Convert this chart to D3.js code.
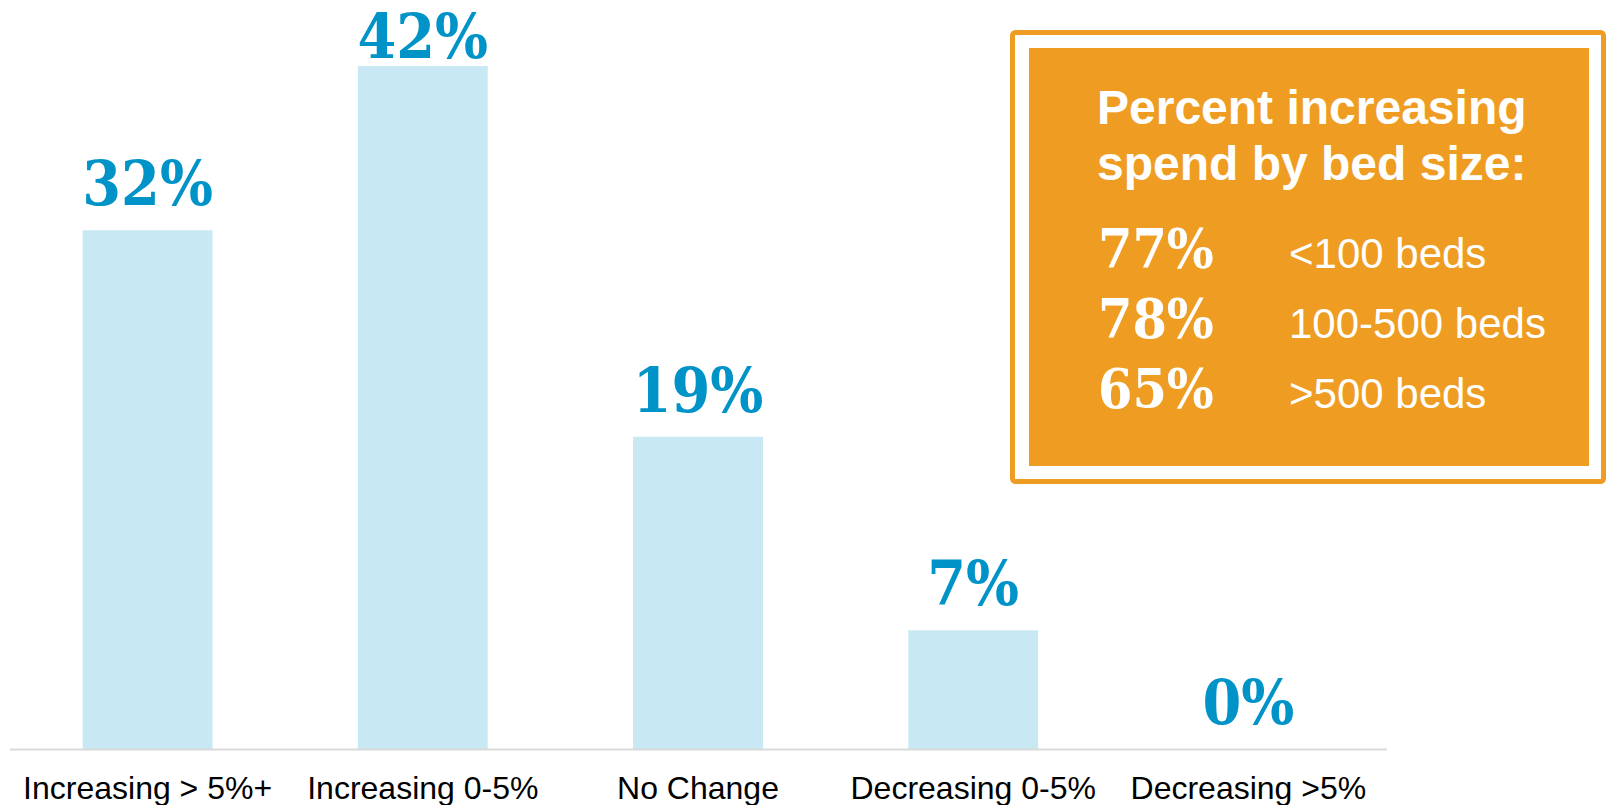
<!DOCTYPE html>
<html>
<head>
<meta charset="utf-8">
<script src="https://cdn.jsdelivr.net/npm/d3@7"></script>
<style>
  html, body { margin: 0; padding: 0; background: #ffffff; }
  svg { display: block; }
</style>
</head>
<body>
<svg id="chart" width="1608" height="805"></svg>
<script>
// ---- data ----
const categories = ["Increasing > 5%+", "Increasing 0-5%", "No Change", "Decreasing 0-5%", "Decreasing >5%"];
const values = [31.9, 42.0, 19.2, 7.3, 0];
const boxTitle = ["Percent increasing", "spend by bed size:"];
const bedPercents = [77, 78, 65];
const bedLabels = ["<100 beds", "100-500 beds", ">500 beds"];

// ---- styles ----
const barColor = "#c8e9f3";
const valueColor = "#0093c8";
const orange = "#ef9d22";
const axisColor = "#d9d9d9";
const slabFont = "'DejaVu Serif', 'Liberation Serif', serif";
const sansFont = "'Liberation Sans', Arial, sans-serif";

const svg = d3.select("#chart");

const x = d3.scaleBand()
  .domain(categories)
  .range([10, 1386])
  .paddingInner(0.528)
  .paddingOuter(0.264);

const y = d3.scaleLinear().domain([0, 46.06]).range([749, 0]);

// bars
svg.append("g").selectAll("rect")
  .data(values)
  .join("rect")
  .attr("x", (d, i) => x(categories[i]))
  .attr("y", d => y(d))
  .attr("width", x.bandwidth())
  .attr("height", d => y(0) - y(d))
  .attr("fill", barColor);

// axis baseline
const xAxis = d3.axisBottom(x).tickSize(0).tickPadding(0);
const axisG = svg.append("g").attr("transform", `translate(0,${y(0)})`).call(xAxis);
axisG.select(".domain").attr("stroke", axisColor).attr("stroke-width", 2)
  .attr("d", `M10,0.5H1387`);
axisG.selectAll(".tick text")
  .attr("y", 50)
  .attr("dy", 0)
  .attr("fill", "#000")
  .style("font-family", sansFont)
  .style("font-size", "32px");

// value labels
svg.append("g").selectAll("text")
  .data(values)
  .join("text")
  .attr("transform", (d, i) => {
    const cx = x(categories[i]) + x.bandwidth() / 2;
    const by = Math.max(y(d) - 25, 58);
    return `translate(${cx},${by}) scale(0.9,1)`;
  })
  .attr("text-anchor", "middle")
  .attr("fill", valueColor)
  .style("font-family", slabFont)
  .style("font-weight", "bold")
  .style("font-size", "62px")
  .text(d => Math.round(d) + "%");

// ---- callout box ----
const box = svg.append("g");
box.append("rect")
  .attr("x", 1012.5).attr("y", 32.5)
  .attr("width", 591).attr("height", 449)
  .attr("rx", 3)
  .attr("fill", "none")
  .attr("stroke", orange)
  .attr("stroke-width", 5);
box.append("rect")
  .attr("x", 1029).attr("y", 48)
  .attr("width", 560).attr("height", 418)
  .attr("fill", orange);

box.selectAll("text.title")
  .data(boxTitle)
  .join("text")
  .attr("class", "title")
  .attr("x", 1097)
  .attr("y", (d, i) => 124 + i * 56)
  .attr("fill", "#fff")
  .style("font-family", sansFont)
  .style("font-weight", "bold")
  .style("font-size", "48px")
  .text(d => d);

const rowY = [268, 338, 408];
box.selectAll("text.pct")
  .data(bedPercents)
  .join("text")
  .attr("class", "pct")
  .attr("transform", (d, i) => `translate(1098,${rowY[i]}) scale(0.9,1)`)
  .attr("fill", "#fff")
  .style("font-family", slabFont)
  .style("font-weight", "bold")
  .style("font-size", "55px")
  .text(d => d + "%");

box.selectAll("text.bed")
  .data(bedLabels)
  .join("text")
  .attr("class", "bed")
  .attr("x", 1289)
  .attr("y", (d, i) => rowY[i])
  .attr("fill", "#fff")
  .style("font-family", sansFont)
  .style("font-size", "42px")
  .text(d => d);
</script>
</body>
</html>
